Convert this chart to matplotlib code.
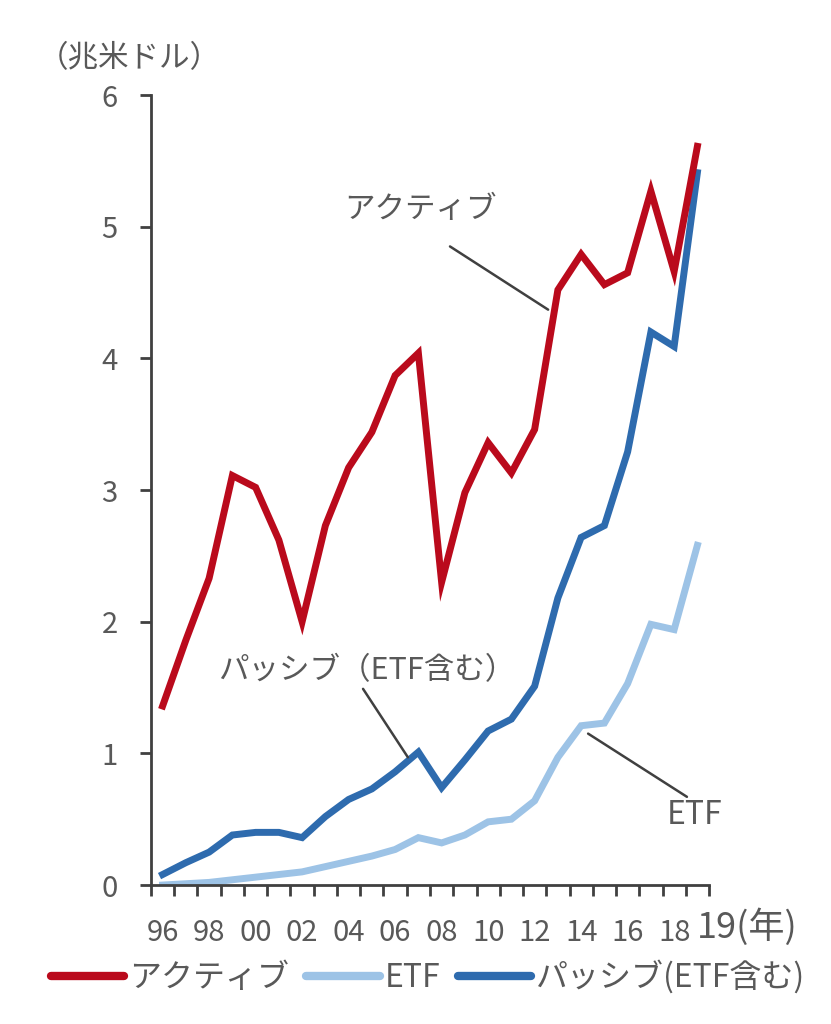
import numpy as np
import matplotlib
matplotlib.use("Agg")
import matplotlib.pyplot as plt
from matplotlib.lines import Line2D

plt.rcParams['font.family'] = ['Noto Sans CJK JP', 'DejaVu Sans']

years = list(range(1996, 2020))
year_labels = ['96', '98', '00', '02', '04', '06', '08', '10', '12', '14', '16', '18']

active = [1.36, 1.86, 2.33, 3.11, 3.02, 2.62, 2.00, 2.73, 3.17, 3.44, 3.87, 4.04,
          2.30, 2.98, 3.36, 3.13, 3.46, 4.52, 4.79, 4.56, 4.65, 5.27, 4.66, 5.61]
passive = [0.08, 0.17, 0.25, 0.38, 0.40, 0.40, 0.36, 0.52, 0.65, 0.73, 0.86, 1.01,
           0.74, 0.95, 1.17, 1.26, 1.51, 2.18, 2.64, 2.73, 3.29, 4.20, 4.09, 5.41]
etf = [0.00, 0.01, 0.02, 0.04, 0.06, 0.08, 0.10, 0.14, 0.18, 0.22, 0.27, 0.36,
       0.32, 0.38, 0.48, 0.50, 0.64, 0.97, 1.21, 1.23, 1.53, 1.98, 1.94, 2.58]

RED = '#BA0A1C'
LIGHT = '#9DC3E6'
BLUE = '#2E6BAE'
TXT = '#595959'
AX = '#404040'

fig = plt.figure(figsize=(8.31, 10.24), dpi=100)
ax = fig.add_axes([0.1817, 0.1357, 0.6715, 0.7715])

x = np.arange(len(years))
ax.plot(x, active, color=RED, lw=5, solid_joinstyle='miter', zorder=3)
ax.plot(x, etf, color=LIGHT, lw=5, solid_joinstyle='miter', zorder=2)
ax.plot(x, passive, color=BLUE, lw=5, solid_joinstyle='miter', zorder=2)

ax.set_xlim(-0.5, len(years) - 0.5)
ax.set_ylim(0, 6)

for s in ['top', 'right']:
    ax.spines[s].set_visible(False)
for s in ['left', 'bottom']:
    ax.spines[s].set_color(AX)
    ax.spines[s].set_linewidth(2)

# tick marks on category boundaries, labels on every other category
ax.set_xticks(np.arange(-0.5, len(years), 1))
ax.set_xticklabels([])
ax.tick_params(axis='x', which='major', length=8, width=2, color=AX, direction='out')
ax.set_xticks(np.arange(0, 23, 2), minor=True)
ax.set_xticklabels(year_labels, minor=True)
ax.tick_params(axis='x', which='minor', length=0, pad=24, labelsize=21, labelcolor=TXT)

ax.set_yticks(range(0, 7))
ax.tick_params(axis='y', length=8, width=2, color=AX, pad=16, labelsize=21, labelcolor=TXT)

fig.text(0.839, 0.0947, '19(年)', fontsize=26, color=TXT, ha='left', va='center')
fig.text(0.156, 0.943, '（兆米ドル）', fontsize=22, color=TXT, ha='center', va='center')

ann = dict(arrowstyle='-', color=AX, lw=1.8, shrinkA=0, shrinkB=0)
ax.text(11.07, 5.13, 'アクティブ', fontsize=22, color=TXT, ha='center', va='center')
ax.annotate('', xy=(16.58, 4.37), xytext=(12.36, 4.85), arrowprops=ann)
ax.text(8.79, 1.63, 'パッシブ（ETF含む）', fontsize=22, color=TXT, ha='center', va='center')
ax.annotate('', xy=(10.55, 0.97), xytext=(8.62, 1.49), arrowprops=ann)
ax.text(22.9, 0.53, 'ETF', fontsize=23, color=TXT, ha='center', va='center')
ax.annotate('', xy=(22.55, 0.67), xytext=(18.3, 1.15), arrowprops=ann)

handles = [Line2D([], [], color=RED, lw=6, solid_capstyle='round'),
           Line2D([], [], color=LIGHT, lw=6, solid_capstyle='round'),
           Line2D([], [], color=BLUE, lw=6, solid_capstyle='round')]
fig.legend(handles, ['アクティブ', 'ETF', 'パッシブ(ETF含む)'], loc='center',
           bbox_to_anchor=(0.515, 0.046), ncol=3, frameon=False, fontsize=23,
           labelcolor=TXT, handlelength=2.3, handletextpad=0.15, columnspacing=0.55)

fig.savefig('out.png', dpi=100)
